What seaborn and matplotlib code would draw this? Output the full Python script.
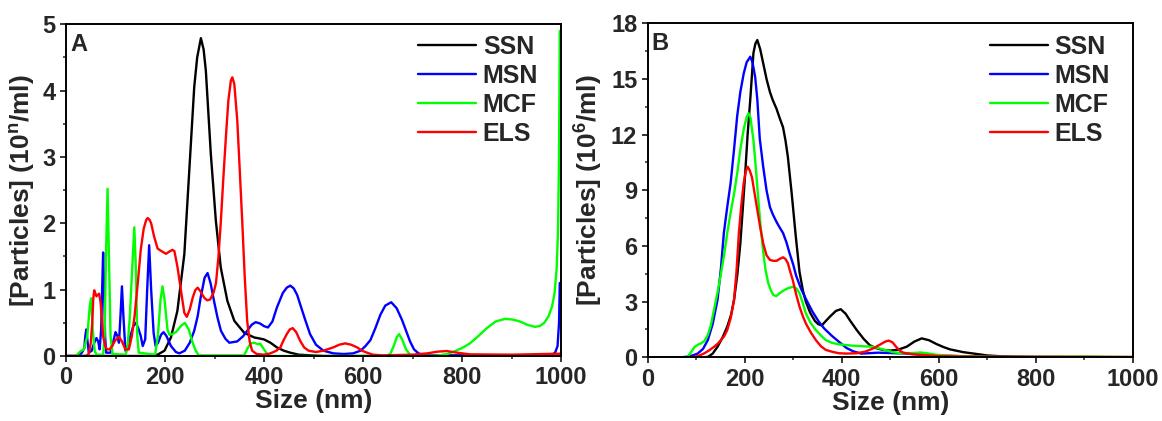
import numpy as np
import pandas as pd
import matplotlib
matplotlib.use("Agg")
import matplotlib.pyplot as plt
from matplotlib.ticker import MultipleLocator
import seaborn as sns

# ---------------- Panel A data (size nm, particles 10^n/ml) ----------------
ssn_a_x = [0, 170, 185, 199, 212, 225, 239, 249, 259, 265, 272.5, 278, 282.5, 292.6, 302.7, 312.7, 326, 340, 360,
           380, 400, 413, 426, 440, 453, 470, 493, 520, 1000]
ssn_a_y = [0, 0, 0.02, 0.08, 0.28, 0.68, 1.53, 2.79, 4.05, 4.5, 4.79, 4.62, 4.30, 3.04, 2.04, 1.33, 0.83, 0.53, 0.35,
           0.28, 0.25, 0.2, 0.13, 0.08, 0.05, 0.02, 0.01, 0, 0]

msn_a_x = [0, 25, 32, 37, 39, 41, 43, 46, 52, 57, 61.5, 65, 68, 71, 73, 75, 77, 79, 81, 90, 95, 100, 104, 107, 110,
           113, 116, 120, 125, 130, 136, 141, 146, 151, 155, 160, 164, 168, 172, 177, 181, 186, 192, 197, 203, 212,
           222, 229, 240, 250, 259, 266, 272, 280, 286, 292, 299, 306, 313, 322, 330, 346, 358, 366, 375, 383, 392,
           400, 408, 417, 426, 438, 446, 453, 460, 467, 473, 483, 493, 505, 520, 540, 561, 580, 595, 605, 615, 625,
           635, 645, 657, 668, 679, 687, 695, 703, 712, 725, 980, 988, 993, 996, 997.5]
msn_a_y = [0, 0, 0.05, 0.12, 0.3, 0.40, 0.25, 0.05, 0.08, 0.2, 0.27, 0.22, 0.1, 0.4, 1.0, 1.56, 1.0, 0.3, 0.05, 0.05,
           0.2, 0.36, 0.3, 0.2, 0.6, 1.05, 0.6, 0.08, 0.15, 0.3, 0.45, 0.5, 0.42, 0.3, 0.15, 0.25, 1.0, 1.67, 1.0,
           0.35, 0.15, 0.2, 0.32, 0.36, 0.3, 0.15, 0.06, 0.04, 0.08, 0.2, 0.38, 0.6, 0.88, 1.18, 1.25, 1.1, 0.83,
           0.58, 0.38, 0.26, 0.2, 0.22, 0.3, 0.38, 0.47, 0.51, 0.49, 0.45, 0.43, 0.52, 0.73, 0.95, 1.03, 1.06, 1.02,
           0.92, 0.78, 0.55, 0.33, 0.17, 0.08, 0.04, 0.03, 0.04, 0.08, 0.15, 0.24, 0.42, 0.62, 0.76, 0.81, 0.72,
           0.54, 0.38, 0.22, 0.1, 0.04, 0.01, 0.01, 0.05, 0.15, 0.5, 1.1]

mcf_a_x = [0, 20, 29, 36, 43, 48, 50.7, 54, 58, 62, 75, 78, 81, 84, 86.5, 90, 94, 120, 124, 129, 134, 138, 141, 144,
           147, 180, 185.5, 191, 195, 199, 205, 209, 215, 222, 232, 240, 248, 255, 262, 268, 360, 367, 373, 380, 387,
           393, 400, 407, 412, 645, 655, 662, 668, 673, 679, 687, 695, 705, 750, 770, 783, 800, 816, 833, 850, 868,
           887, 902, 917, 932, 947, 957, 966, 975, 982, 987, 991, 994, 996, 997.5]
mcf_a_y = [0, 0, 0.07, 0.1, 0.3, 0.75, 0.87, 0.4, 0.07, 0.02, 0.02, 0.3, 1.6, 2.52, 1.6, 0.3, 0.03, 0.02, 0.1, 0.6,
           1.36, 1.94, 1.36, 0.3, 0.05, 0.02, 0.3, 0.85, 1.05, 0.85, 0.4, 0.32, 0.33, 0.36, 0.45, 0.5, 0.4, 0.22,
           0.08, 0.01, 0.01, 0.12, 0.19, 0.2, 0.18, 0.18, 0.1, 0.02, 0, 0, 0.03, 0.15, 0.28, 0.33, 0.25, 0.1, 0.02,
           0, 0.005, 0.03, 0.065, 0.12, 0.19, 0.3, 0.42, 0.52, 0.56, 0.55, 0.52, 0.47, 0.44, 0.45, 0.5, 0.6, 0.75,
           0.95, 1.3, 1.9, 3.0, 4.9]

els_a_x = [0, 40, 46, 50, 53, 55, 57, 59, 61.5, 64, 67, 70, 73, 75, 79, 83, 88, 93, 100, 107, 113, 120, 127, 133,
           138.5, 145, 151, 157, 162, 165, 169, 172, 178, 185, 193, 202, 208, 215, 219, 225, 232, 239, 244, 250, 256,
           261, 266, 272, 279, 285, 291, 298, 303, 308, 313, 318, 323, 328, 333, 336, 340, 346, 351, 356, 361, 366,
           371, 376, 385, 400, 413, 425, 433, 439, 446, 452, 458, 465, 473, 481, 490, 505, 520, 540, 552, 564, 576,
           588, 598, 608, 620, 640, 700, 730, 750, 769, 790, 816, 900, 1000]
els_a_y = [0, 0, 0.03, 0.2, 0.5, 0.85, 0.99, 0.95, 0.9, 0.92, 0.94, 0.8, 0.5, 0.3, 0.15, 0.1, 0.1, 0.15, 0.24, 0.29,
           0.22, 0.1, 0.1, 0.3, 0.6, 1.1, 1.6, 1.92, 2.05, 2.08, 2.05, 2.0, 1.8, 1.62, 1.58, 1.54, 1.57, 1.6, 1.58,
           1.35, 1.0, 0.65, 0.59, 0.7, 0.88, 0.99, 1.03, 0.97, 0.88, 0.84, 0.85, 0.95, 1.1, 1.5, 2.05, 2.7, 3.3,
           3.85, 4.15, 4.2, 4.1, 3.55, 2.8, 2.03, 1.2, 0.53, 0.22, 0.08, 0.03, 0.02, 0.04, 0.08, 0.13, 0.23, 0.33,
           0.4, 0.42, 0.36, 0.23, 0.13, 0.08, 0.06, 0.08, 0.13, 0.17, 0.19, 0.17, 0.13, 0.08, 0.05, 0.02, 0.01,
           0.02, 0.04, 0.065, 0.075, 0.05, 0.025, 0.02, 0.035]

# ---------------- Panel B data (size nm, particles 10^6/ml) ----------------
ssn_b_x = [0, 115, 124, 134, 144, 154, 164, 172, 178, 185, 191, 196, 201, 206, 211.5, 218, 222, 226, 232, 238.5,
           245, 252, 258, 265.5, 272, 279, 284, 289, 297, 305, 313, 320, 326, 335, 345, 352, 359, 367, 376, 388, 398,
           408, 418, 431, 445, 458, 470, 485, 500, 515, 534, 550, 565, 580, 595, 610, 623, 650, 678, 700, 726, 760,
           800, 1000]
ssn_b_y = [0, 0, 0.02, 0.2, 0.57, 1.05, 1.65, 2.3, 3.09, 4.5, 6.14, 8.0, 9.9, 12.0, 13.9, 16.4, 16.9, 17.1, 16.6,
           15.8, 15.0, 14.3, 13.85, 13.4, 12.9, 12.4, 11.7, 10.8, 8.8, 6.6, 4.6, 3.6, 3.0, 2.4, 1.95, 1.78, 1.72,
           1.95, 2.2, 2.5, 2.59, 2.35, 1.95, 1.47, 1.0, 0.65, 0.5, 0.4, 0.36, 0.4, 0.57, 0.85, 1.02, 0.92, 0.72,
           0.55, 0.43, 0.28, 0.18, 0.1, 0.06, 0.03, 0.02, 0]

msn_b_x = [0, 70, 80, 90, 103, 114, 124, 134, 144, 151, 157, 164, 171, 178, 184.5, 191, 198, 204, 211.5, 216,
           221.6, 226, 231, 238, 245, 252, 258, 265.5, 272, 279, 286, 292.6, 300, 306, 316, 327, 340, 352, 364, 380,
           396, 410, 424, 440, 455, 475, 500, 534, 563, 600, 650, 700, 800, 1000]
msn_b_y = [0, 0, 0.03, 0.08, 0.2, 0.45, 0.93, 1.8, 3.1, 4.8, 6.7, 8.1, 9.4, 11.2, 13.0, 14.3, 15.3, 15.9, 16.2,
           15.9, 15.1, 13.9, 11.8, 10.3, 9.0, 8.1, 7.7, 7.3, 7.0, 6.7, 6.2, 5.6, 5.0, 4.4, 3.7, 3.1, 2.45, 1.95,
           1.55, 1.15, 0.8, 0.5, 0.32, 0.2, 0.22, 0.25, 0.23, 0.2, 0.14, 0.1, 0.06, 0.03, 0.01, 0]

mcf_b_x = [0, 75, 83, 90, 97, 105, 110, 117, 124, 130, 137, 144, 151, 158, 164, 171, 178, 185, 191, 198, 204, 208,
           212, 218, 223, 228, 233, 238.5, 243, 248.6, 254, 259, 265, 272, 280, 289, 300.7, 307, 313, 320, 326, 336,
           346.6, 357, 367, 380, 394, 421, 440, 461.5, 475, 488.5, 505, 522, 545, 563, 580, 597, 640, 700, 800, 900,
           1000]
mcf_b_y = [0, 0, 0.05, 0.3, 0.57, 0.7, 0.75, 0.88, 1.2, 1.7, 2.6, 3.5, 4.5, 5.6, 6.7, 7.8, 8.8, 10.0, 11.2, 12.3,
           12.95, 13.15, 12.9, 11.7, 10.2, 8.5, 7.0, 5.6, 4.7, 4.0, 3.6, 3.36, 3.3, 3.45, 3.6, 3.72, 3.81, 3.7, 3.45,
           2.9, 2.37, 1.85, 1.47, 1.18, 0.93, 0.78, 0.7, 0.63, 0.6, 0.57, 0.5, 0.4, 0.28, 0.22, 0.23, 0.26, 0.2,
           0.13, 0.06, 0.03, 0.02, 0.04, 0.01]

els_b_x = [0, 90, 97, 107, 117, 127, 137, 145, 151, 158, 164, 171, 178, 183, 188, 193, 198, 202, 206, 210, 215, 220,
           225, 232, 238.5, 245, 252, 259, 265.5, 272, 279, 284, 289, 294, 299, 306, 313, 320, 326, 336, 346.6, 357,
           367, 380, 394, 410, 431, 448, 465, 480, 490, 497, 505, 512, 520, 527, 545, 563, 597, 650, 700, 1000]
els_b_y = [0, 0, 0.02, 0.1, 0.22, 0.38, 0.57, 0.75, 0.93, 1.15, 1.47, 2.1, 3.1, 4.6, 6.7, 8.2, 9.4, 10.0, 10.27,
           10.1, 9.7, 8.9, 8.1, 7.0, 6.1, 5.5, 5.25, 5.2, 5.2, 5.3, 5.39, 5.3, 5.07, 4.6, 4.17, 3.4, 2.73, 2.2,
           1.83, 1.35, 0.93, 0.6, 0.4, 0.3, 0.22, 0.2, 0.22, 0.3, 0.48, 0.7, 0.85, 0.9, 0.8, 0.57, 0.35, 0.25, 0.17,
           0.13, 0.07, 0.04, 0.03, 0.02]

series_names = ["SSN", "MSN", "MCF", "ELS"]
series_colors = ["#000000", "#0000ff", "#00ff00", "#ff0000"]

panel_a = [(ssn_a_x, ssn_a_y), (msn_a_x, msn_a_y), (mcf_a_x, mcf_a_y), (els_a_x, els_a_y)]
panel_b = [(ssn_b_x, ssn_b_y), (msn_b_x, msn_b_y), (mcf_b_x, mcf_b_y), (els_b_x, els_b_y)]

# ---------------- Styling ----------------
sns.set_style("ticks")
plt.rcParams["font.family"] = ["Liberation Sans", "DejaVu Sans"]
plt.rcParams["font.weight"] = "bold"
plt.rcParams["axes.labelweight"] = "bold"
plt.rcParams["mathtext.fontset"] = "custom"
plt.rcParams["mathtext.rm"] = "Liberation Sans:bold"
plt.rcParams["mathtext.bf"] = "Liberation Sans:bold"
plt.rcParams["mathtext.default"] = "bf"

fig = plt.figure(figsize=(11.62, 4.21), dpi=100)
ax_a = fig.add_axes([0.0568, 0.1544, 0.426, 0.788])
ax_b = fig.add_axes([0.5574, 0.1513, 0.4174, 0.7933])


def draw(ax, panel):
    frames = []
    for name, (xs, ys) in zip(series_names, panel):
        frames.append(pd.DataFrame({"Size": xs, "Conc": ys, "Sample": name}))
    df = pd.concat(frames, ignore_index=True)
    sns.lineplot(data=df, x="Size", y="Conc", hue="Sample", hue_order=series_names,
                 palette=dict(zip(series_names, series_colors)), estimator=None, sort=False,
                 linewidth=1.7, ax=ax)


draw(ax_a, panel_a)
draw(ax_b, panel_b)

legend_anchor = {0: (0.954, 0.968), 1: (0.953, 0.965)}

for i, ax in enumerate((ax_a, ax_b)):
    ax.set_xlim(0, 1000)
    ax.xaxis.set_major_locator(MultipleLocator(200))
    ax.xaxis.set_minor_locator(MultipleLocator(100))
    ax.tick_params(which="major", direction="out", length=4.5, width=1.3, labelsize=17, pad=3)
    ax.tick_params(which="minor", direction="out", length=2.5, width=1.1)
    ax.tick_params(top=False, right=False, which="both")
    for sp in ax.spines.values():
        sp.set_visible(True)
        sp.set_linewidth(1.4)
        sp.set_color("black")
    ax.set_xlabel("Size (nm)", fontsize=19, fontweight="bold", labelpad=0)
    leg = ax.legend(loc="upper right", bbox_to_anchor=legend_anchor[i], frameon=False,
                    handlelength=2.3, handletextpad=0.28, labelspacing=0.2,
                    borderaxespad=0, borderpad=0, prop={"weight": "bold", "size": 18})
    for line in leg.get_lines():
        line.set_linewidth(1.7)

ax_a.set_ylim(0, 5)
ax_a.yaxis.set_major_locator(MultipleLocator(1))
ax_a.yaxis.set_minor_locator(MultipleLocator(0.5))
ax_a.set_ylabel(r"[Particles] (10$^{n}$/ml)", fontsize=19, fontweight="bold", labelpad=4)
ax_a.text(0.008, 0.975, "A", transform=ax_a.transAxes, fontsize=17, fontweight="bold", va="top", ha="left")

ax_b.set_ylim(0, 18)
ax_b.yaxis.set_major_locator(MultipleLocator(3))
ax_b.yaxis.set_minor_locator(MultipleLocator(1.5))
ax_b.set_ylabel(r"[Particles] (10$^{6}$/ml)", fontsize=19, fontweight="bold", labelpad=4)
ax_b.text(0.008, 0.975, "B", transform=ax_b.transAxes, fontsize=17, fontweight="bold", va="top", ha="left")

for ax in (ax_a, ax_b):
    for lab in ax.get_xticklabels() + ax.get_yticklabels():
        lab.set_fontweight("bold")

fig.savefig("out.png", dpi=100)
